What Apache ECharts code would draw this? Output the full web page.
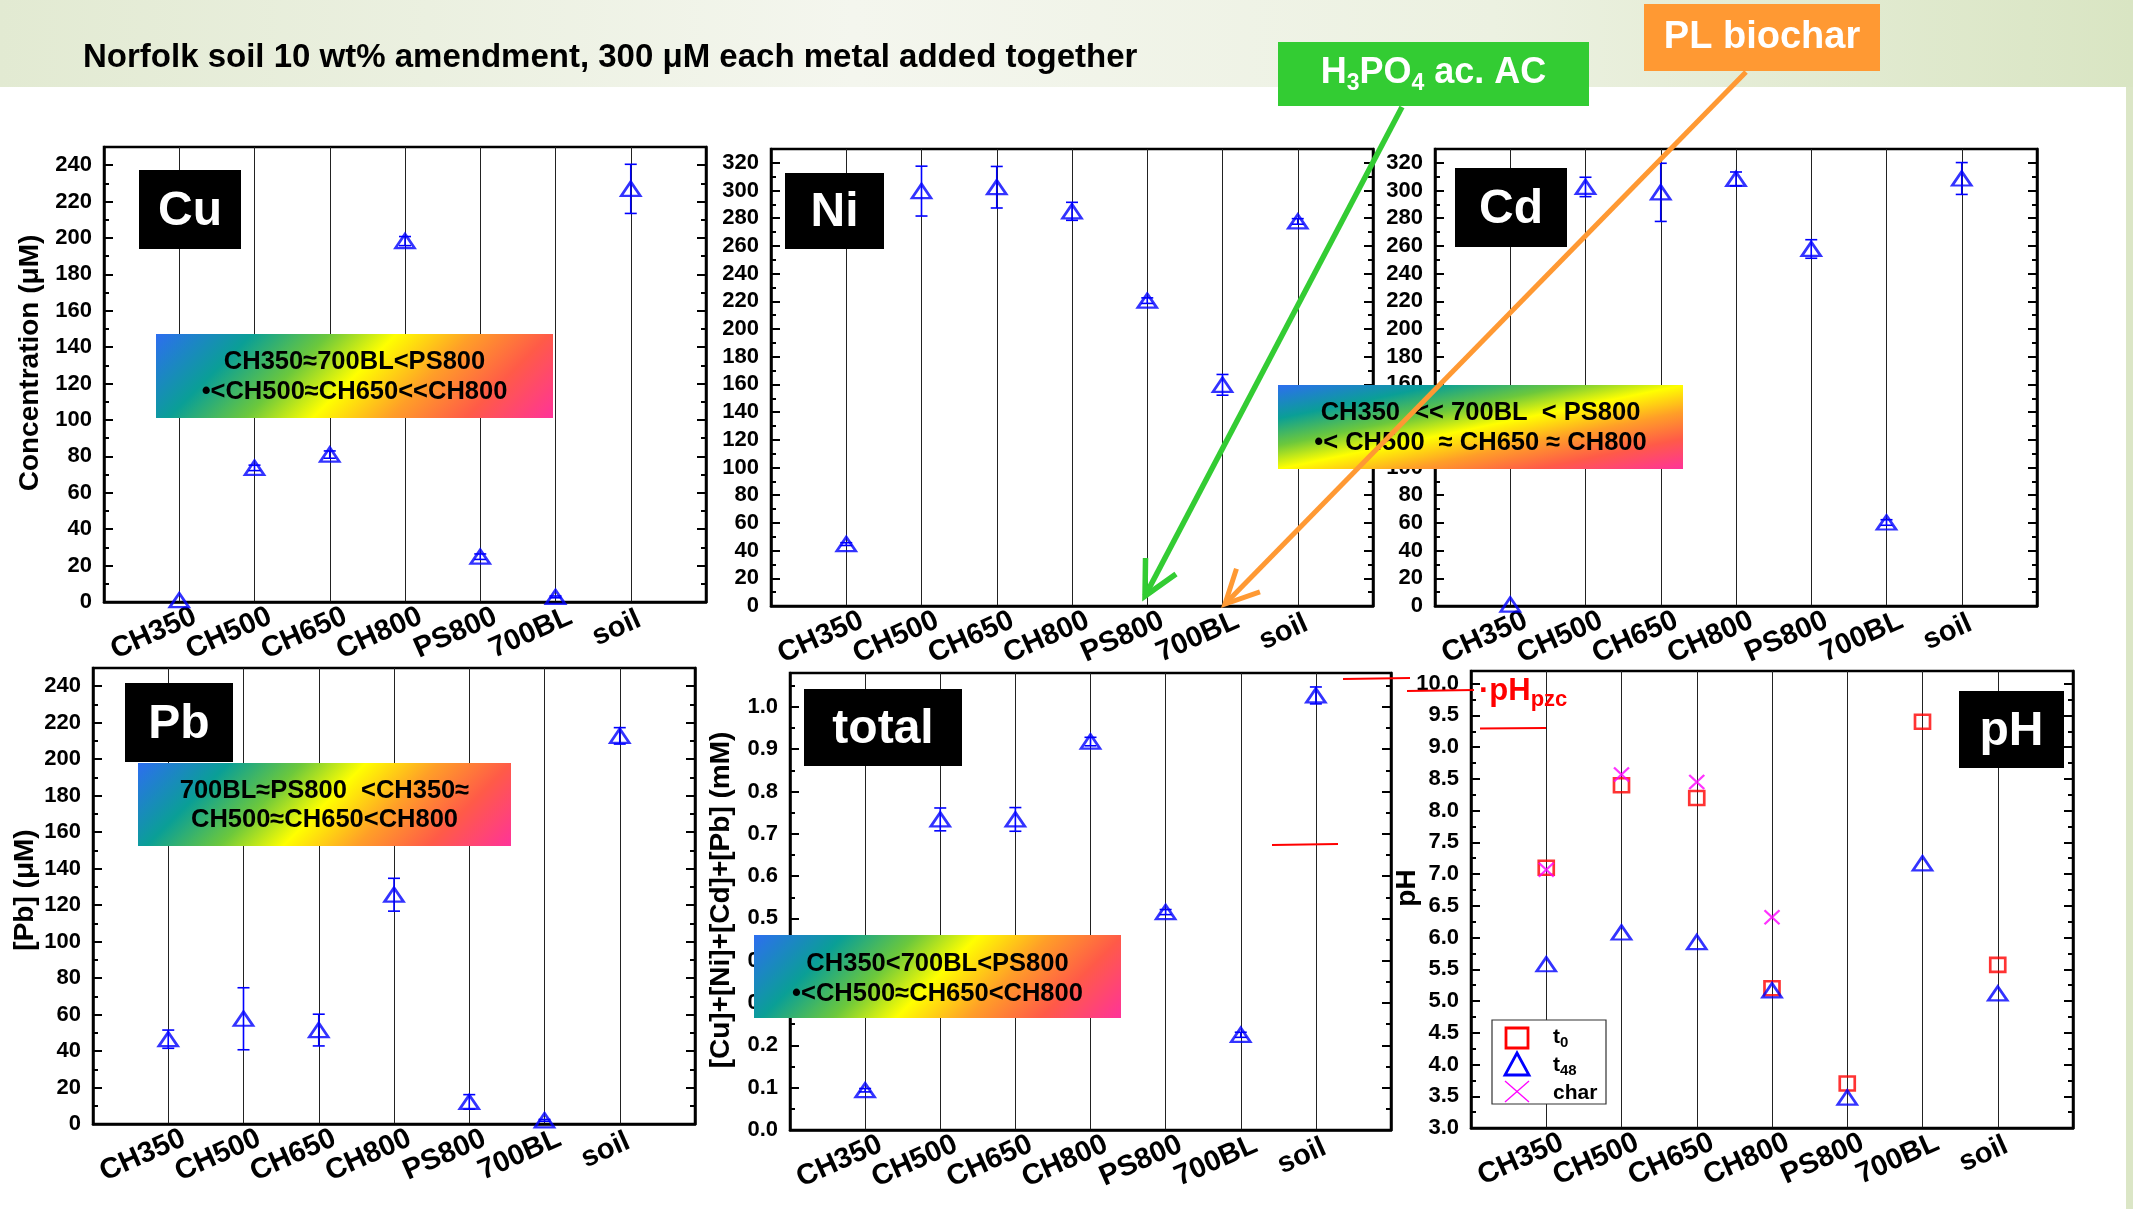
<!DOCTYPE html>
<html><head><meta charset="utf-8">
<script src="https://cdn.jsdelivr.net/npm/echarts@6/dist/echarts.min.js"></script>
<style>html,body{margin:0;padding:0;background:#fff}#c{width:2133px;height:1209px}</style>
</head><body><div id="c"></div>
<script>
// ---------------- data ----------------
const categories = ['CH350','CH500','CH650','CH800','PS800','700BL','soil'];
const cuValues    = [1, 73.7, 81, 198.3, 24.9, 2.8, 227];
const cuErrors    = [0, 1.5, 2, 2.5, 1.5, 0.5, 13.5];
const niValues    = [44.7, 299.6, 302.4, 285, 220.5, 159.7, 277.7];
const niErrors    = [1, 18, 15, 6.5, 2, 7.5, 2];
const cdValues    = [1, 302.6, 298.7, 308.4, 257.8, 60.3, 308.7];
const cdErrors    = [0, 7, 21, 5, 6.7, 2, 11.5];
const pbValues    = [46.5, 57.7, 51.5, 125.7, 12.1, 2, 212.8];
const pbErrors    = [5, 17, 8.7, 9, 4, 0.5, 4.5];
const totalValues = [0.094, 0.734, 0.734, 0.918, 0.515, 0.225, 1.027];
const totalErrors = [0.004, 0.027, 0.028, 0.01, 0.006, 0.006, 0.02];
const pHt0   = [7.1, 8.4, 8.2, 5.2, 3.7, 9.4, 5.57];
const pHt48  = [5.58, 6.08, 5.93, 5.17, 3.48, 7.17, 5.12];
const pHchar = [7.07, 8.57, 8.45, 6.32, null, null, null];

// axis ranges [min, max, interval, decimals]
const cuAxis    = [0, 250, 20, 0];
const niAxis    = [0, 330, 20, 0];
const cdAxis    = [0, 330, 20, 0];
const pbAxis    = [0, 250, 20, 0];
const totalAxis = [0, 1.08, 0.1, 1];
const pHAxis    = [3, 10.2, 0.5, 1];

const panelNames = ['Cu','Ni','Cd','Pb','total','pH'];
const yTitles = ['Concentration (\u03BCM)', null, null, '[Pb] (\u03BCM)', '[Cu]+[Ni]+[Cd]+[Pb] (mM)', 'pH'];
const rankTexts = [
  ['CH350\u2248700BL<PS800', '\u2022<CH500\u2248CH650<<CH800'],
  ['CH350  << 700BL  < PS800', '\u2022< CH500  \u2248 CH650 \u2248 CH800'],
  ['700BL\u2248PS800  <CH350\u2248', 'CH500\u2248CH650<CH800'],
  ['CH350<700BL<PS800', '\u2022<CH500\u2248CH650<CH800']
];
const titleText = 'Norfolk soil 10 wt% amendment, 300 \u03BCM each metal added together';

// ---------------- layout ----------------
const FONT = '"Liberation Sans", Arial, Helvetica, sans-serif';
const layout = [
  {left:104, top:147, width:602, height:455},
  {left:771, top:149, width:602, height:457},
  {left:1435, top:149, width:602, height:457},
  {left:93, top:668, width:602, height:456},
  {left:790, top:673, width:601, height:457},
  {left:1471, top:671, width:602, height:457}
];
const metalPanels = [
  {vals:cuValues, errs:cuErrors, axis:cuAxis},
  {vals:niValues, errs:niErrors, axis:niAxis},
  {vals:cdValues, errs:cdErrors, axis:cdAxis},
  {vals:pbValues, errs:pbErrors, axis:pbAxis},
  {vals:totalValues, errs:totalErrors, axis:totalAxis}
];
const axesList = [cuAxis, niAxis, cdAxis, pbAxis, totalAxis, pHAxis];

const xAxisData = [' ', ...categories, '  '];
const grids = [], xAxes = [], yAxes = [], series = [];

function yAxisCfg(i, pos, ax) {
  return {
    gridIndex: i, type: 'value', position: pos,
    min: ax[0], max: ax[1], interval: ax[2],
    axisLine: {show: true, onZero: false, lineStyle: {color: '#000', width: 2.5}},
    axisTick: {show: true, inside: true, length: 9, lineStyle: {color: '#000', width: 2}},
    minorTick: {show: true, splitNumber: 2, length: 5, lineStyle: {color: '#000', width: 2}},
    axisLabel: {show: pos === 'left', fontSize: 22, fontWeight: 'bold', color: '#000', fontFamily: FONT,
      margin: 12, showMaxLabel: false, formatter: v => Number(v).toFixed(ax[3])},
    splitLine: {show: false}
  };
}

const XL = 29;
axesList.forEach((ax, i) => {
  grids.push(Object.assign({show: true, borderColor: '#000', borderWidth: 2.5, backgroundColor: 'rgba(0,0,0,0)'}, layout[i]));
  xAxes.push({
    gridIndex: i, type: 'category', data: xAxisData, boundaryGap: false,
    axisLine: {show: true, onZero: false, lineStyle: {color: '#000', width: 2.5}},
    axisTick: {show: false},
    splitLine: {show: true, lineStyle: {color: '#222', width: 1}},
    axisLabel: {
      interval: 0, rotate: 24, margin: 20, align: 'center', verticalAlign: 'middle',
      formatter: v => v.trim() ? '{a|' + v + '}{b|' + v + '}' : '',
      rich: {
        a: {fontSize: XL, fontWeight: 'bold', fontFamily: FONT, color: '#000'},
        b: {fontSize: XL * 0.62, fontWeight: 'bold', fontFamily: FONT, color: 'rgba(0,0,0,0)'}
      }
    }
  });
  yAxes.push(yAxisCfg(i, 'left', ax), yAxisCfg(i, 'right', ax));
});

const triStyle = {color: 'rgba(0,0,0,0)', borderColor: '#0000ff', borderWidth: 2.6};

function errRender(params, api) {
  const x = api.value(0), y = api.value(1), e = api.value(2);
  if (!e) return null;
  const p1 = api.coord([x, y + e]), p2 = api.coord([x, y - e]);
  const hw = 6, st = {stroke: '#0000ff', lineWidth: 1.6};
  return {type: 'group', children: [
    {type: 'line', shape: {x1: p1[0], y1: p1[1], x2: p2[0], y2: p2[1]}, style: st},
    {type: 'line', shape: {x1: p1[0] - hw, y1: p1[1], x2: p1[0] + hw, y2: p1[1]}, style: st},
    {type: 'line', shape: {x1: p2[0] - hw, y1: p2[1], x2: p2[0] + hw, y2: p2[1]}, style: st}
  ]};
}

metalPanels.forEach((p, i) => {
  series.push({
    type: 'custom', xAxisIndex: i, yAxisIndex: 2 * i, z: 4,
    encode: {x: 0, y: 1},
    data: categories.map((c, j) => [c, p.vals[j], p.errs[j]]),
    renderItem: errRender
  });
  series.push({
    type: 'scatter', xAxisIndex: i, yAxisIndex: 2 * i, z: 5,
    symbol: 'triangle', symbolSize: [19, 14], itemStyle: triStyle,
    data: categories.map((c, j) => [c, p.vals[j]])
  });
});
// pH panel
series.push({
  type: 'scatter', xAxisIndex: 5, yAxisIndex: 10, z: 5, symbol: 'rect', symbolSize: [15, 14],
  itemStyle: {color: 'rgba(0,0,0,0)', borderColor: '#ff0000', borderWidth: 2.6},
  data: categories.map((c, j) => [c, pHt0[j]])
});
series.push({
  type: 'scatter', xAxisIndex: 5, yAxisIndex: 10, z: 6, symbol: 'triangle', symbolSize: [19, 14],
  itemStyle: triStyle,
  data: categories.map((c, j) => [c, pHt48[j]])
});
series.push({
  type: 'scatter', xAxisIndex: 5, yAxisIndex: 10, z: 7, symbol: 'path://M0,0L10,10M10,0L0,10', symbolSize: [15, 14],
  itemStyle: {color: 'rgba(0,0,0,0)', borderColor: '#ff00ff', borderWidth: 2.2},
  data: categories.map((c, j) => [c, pHchar[j]]).filter(d => d[1] != null)
});

// ---------------- graphics ----------------
const mctx = document.createElement('canvas').getContext('2d');
function tw(t, size) { mctx.font = 'bold ' + size + 'px ' + FONT; return mctx.measureText(t).width; }
function txt(x, y, text, size, color, align, extra) {
  return Object.assign({type: 'text', z: 110, x: x, y: y, style: {
    text: text, fontSize: size, fontWeight: 'bold', fontFamily: FONT, fill: color,
    align: align || 'center', textAlign: align || 'center', verticalAlign: 'middle', textVerticalAlign: 'middle'}}, extra || {});
}
// parts: [text, size, baselineShift]
function composite(x, baseline, parts, color, align) {
  const total = parts.reduce((s, p) => s + tw(p[0], p[1]), 0);
  let cx = align === 'left' ? x : x - total / 2;
  const out = [];
  parts.forEach(p => {
    out.push(txt(cx, baseline + p[2] - 0.3465 * p[1], p[0], p[1], color, 'left'));
    cx += tw(p[0], p[1]);
  });
  return out;
}
const stops = [
  {offset: 0, color: '#2d6ef0'}, {offset: 0.2, color: '#0a9f96'}, {offset: 0.36, color: '#6cc83c'},
  {offset: 0.5, color: '#ffff00'}, {offset: 0.66, color: '#ff9e28'}, {offset: 0.82, color: '#ff5a48'},
  {offset: 1, color: '#ff3399'}
];
function grad45(w, h) { const d = (w + h) / 2; return new echarts.graphic.LinearGradient(0, 0, d / w, d / h, stops); }
function gradShape(w, h) { const k = 2 * w * h / (w * w + h * h); return new echarts.graphic.LinearGradient(0, 0, h * k / w, w * k / h, stops); }

const G = [];
// slide background band
G.push({type: 'rect', z: 0, shape: {x: 0, y: 0, width: 2133, height: 87},
  style: {fill: new echarts.graphic.LinearGradient(0, 0, 1, 0, [
    {offset: 0, color: '#e2ead2'}, {offset: 0.4, color: '#f4f6ee'}, {offset: 0.7, color: '#ecf1e1'}, {offset: 1, color: '#d9e5c3'}])}});
G.push({type: 'rect', z: 0, shape: {x: 2126, y: 87, width: 7, height: 1122}, style: {fill: '#dbe6c6'}});
// title
G.push(txt(83, 69.5 - 0.3465 * 33, titleText, 33, '#000', 'left'));

// panel name boxes
const nameBoxes = [
  [139, 170, 102, 79], [785, 173, 99, 76], [1455, 168, 112, 79],
  [125, 683, 108, 79], [804, 689, 158, 77], [1959, 691, 105, 77]
];
nameBoxes.forEach((b, i) => {
  G.push({type: 'rect', z: 100, shape: {x: b[0], y: b[1], width: b[2], height: b[3]}, style: {fill: '#000'}});
  G.push(txt(b[0] + b[2] / 2, b[1] + b[3] / 2 + 2, panelNames[i], 48, '#fff'));
});

// ranking gradient boxes [x, y, w, h, line1 y, line2 y, type]
const rankBoxes = [
  [156, 334, 397, 84, 362, 391.5, 45],
  [1278, 385, 405, 84, 413, 442.5, 0],
  [138, 763, 373, 83, 790.5, 819.5, 45],
  [754, 935, 367, 83, 964, 994, 45]
];
rankBoxes.forEach((b, i) => {
  G.push({type: 'rect', z: 100, shape: {x: b[0], y: b[1], width: b[2], height: b[3]},
    style: {fill: b[6] ? grad45(b[2], b[3]) : gradShape(b[2], b[3])}});
  G.push(txt(b[0] + b[2] / 2, b[4], rankTexts[i][0], 25.5, '#000'));
  G.push(txt(b[0] + b[2] / 2, b[5], rankTexts[i][1], 25.5, '#000'));
});

// y-axis titles
const yTitlePos = [[30, 363], null, null, [25, 890], [721, 900], [1407, 888]];
yTitles.forEach((t, i) => {
  if (!t) return;
  G.push(txt(yTitlePos[i][0], yTitlePos[i][1], t, 28, '#000', 'center', {rotation: Math.PI / 2}));
});

// callout boxes
G.push({type: 'rect', z: 100, shape: {x: 1278, y: 42, width: 311, height: 64}, style: {fill: '#33cc33'}});
composite(1433.5, 86, [['H', 36, 0], ['3', 23, 6], ['PO', 36, 0], ['4', 23, 6], [' ac. AC', 36, 0]], '#fff').forEach(e => G.push(e));
G.push({type: 'rect', z: 100, shape: {x: 1644, y: 4, width: 236, height: 67}, style: {fill: '#ff9933'}});
G.push(txt(1762, 38, 'PL biochar', 38, '#fff'));

function arrow(x1, y1, x2, y2, color, lw, hl, ang) {
  const a = Math.atan2(y1 - y2, x1 - x2);
  const p1 = [x2 + hl * Math.cos(a + ang), y2 + hl * Math.sin(a + ang)];
  const p2 = [x2 + hl * Math.cos(a - ang), y2 + hl * Math.sin(a - ang)];
  return [
    {type: 'line', z: 120, shape: {x1: x1, y1: y1, x2: x2, y2: y2}, style: {stroke: color, lineWidth: lw}},
    {type: 'polyline', z: 120, shape: {points: [p1, [x2, y2], p2]}, style: {stroke: color, lineWidth: lw, fill: null}}
  ];
}
arrow(1402, 107, 1145, 596, '#33cc33', 5.5, 38, 0.47).forEach(e => G.push(e));
arrow(1746, 72, 1225, 604, '#ff9933', 5, 37, 0.46).forEach(e => G.push(e));

// pHpzc markers
[[1343, 679, 1410, 678], [1407, 691, 1474, 690], [1480, 728.5, 1546, 728], [1272, 845, 1338, 844]].forEach(l => {
  G.push({type: 'line', z: 115, shape: {x1: l[0], y1: l[1], x2: l[2], y2: l[3]}, style: {stroke: '#ff0000', lineWidth: 2.2}});
});
composite(1479, 702, [['\u00B7pH', 31, 0], ['pzc', 22, 6]], '#ff0000', 'left').forEach(e => G.push(e));

// pH legend
G.push({type: 'rect', z: 105, shape: {x: 1492, y: 1020, width: 114, height: 84}, style: {fill: '#fff', stroke: '#333', lineWidth: 1.2}});
G.push({type: 'rect', z: 106, shape: {x: 1506, y: 1028, width: 22, height: 20}, style: {fill: null, stroke: '#ff0000', lineWidth: 2.8}});
G.push({type: 'polygon', z: 106, shape: {points: [[1517, 1053], [1529, 1075], [1505, 1075]]}, style: {fill: null, stroke: '#0000ff', lineWidth: 2.8}});
G.push({type: 'line', z: 106, shape: {x1: 1505, y1: 1081, x2: 1529, y2: 1102}, style: {stroke: '#ff00ff', lineWidth: 1.3}});
G.push({type: 'line', z: 106, shape: {x1: 1529, y1: 1081, x2: 1505, y2: 1102}, style: {stroke: '#ff00ff', lineWidth: 1.3}});
composite(1553, 1044.5, [['t', 21, 0], ['0', 15, 4]], '#000', 'left').forEach(e => G.push(e));
composite(1553, 1072, [['t', 21, 0], ['48', 15, 4]], '#000', 'left').forEach(e => G.push(e));
composite(1553, 1100, [['char', 21, 0]], '#000', 'left').forEach(e => G.push(e));

const chart = echarts.init(document.getElementById('c'), null, {renderer: 'canvas'});
chart.setOption({
  backgroundColor: '#ffffff',
  animation: false,
  textStyle: {fontFamily: FONT},
  grid: grids, xAxis: xAxes, yAxis: yAxes, series: series,
  graphic: {elements: G}
});
</script></body></html>
